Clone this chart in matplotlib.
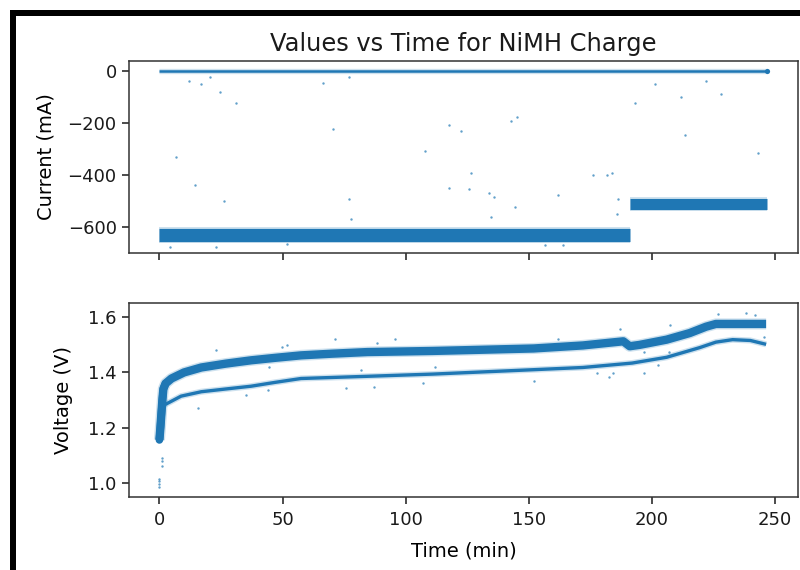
import matplotlib
matplotlib.use("Agg")
import matplotlib.pyplot as plt
from matplotlib.patches import Rectangle

# ---------------- data ----------------
# Current (mA): dense bands, given as band end points
zero_t = [0.0, 246.6]
zero_i = [0.0, 0.0]
cc1_t = [0.0, 191.0]
cc1_i = [-629.0, -629.0]
cc2_t = [191.0, 246.6]
cc2_i = [-512.0, -512.0]
# isolated current samples
out_i_t = [12.2, 17.0, 20.6, 24.7, 31.2, 6.8, 14.3, 26.2, 4.5, 23.0, 52.0, 66.6,
           77.0, 70.7, 77.0, 77.7, 108.0, 117.8, 117.8, 122.6, 125.9, 126.6,
           133.7, 135.7, 134.7, 142.8, 145.2, 144.5, 162.0, 156.7, 163.8, 176.0,
           181.6, 184.0, 186.4, 185.7, 193.1, 201.2, 211.7, 213.4, 222.1, 227.9,
           243.3]
out_i_v = [-38, -51, -22, -83, -122, -330, -438, -500, -676, -676, -665, -45,
           -22, -224, -492, -569, -308, -208, -451, -230, -454, -391,
           -468, -483, -560, -191, -176, -522, -477, -669, -669, -400,
           -400, -391, -494, -551, -122, -51, -101, -246, -38, -90,
           -314]

# Voltage (V): upper (dense) band
up_t = [0.0, 0.4, 0.8, 1.2, 1.6, 2.5, 4.9, 10.0, 17.0, 27.0, 37.2, 47.0, 57.5,
        70.0, 84.5, 98.0, 111.0, 125.0, 152.0, 172.0, 188.4, 191.0, 195.0,
        206.0, 215.4, 222.0, 226.0, 246.4]
up_v = [1.155, 1.20, 1.25, 1.30, 1.34, 1.36, 1.378, 1.40, 1.418, 1.432, 1.444,
        1.453, 1.462, 1.468, 1.474, 1.476, 1.478, 1.481, 1.487, 1.498, 1.513,
        1.495, 1.500, 1.519, 1.543, 1.566, 1.576, 1.576]
# Voltage (V): lower (thin) band
lo_t = [1.5, 3.5, 8.8, 17.0, 27.0, 37.2, 47.0, 57.5, 84.5, 111.0, 152.0, 172.0,
        192.0, 206.0, 219.4, 226.0, 232.8, 240.0, 246.4]
lo_v = [1.280, 1.289, 1.314, 1.330, 1.340, 1.350, 1.364, 1.378, 1.386, 1.394,
        1.410, 1.418, 1.434, 1.455, 1.490, 1.510, 1.519, 1.516, 1.502]
# isolated voltage samples
out_v_t = [0.0, 0.0, 0.0, 0.0, 1.2, 1.2, 1.2, 15.7, 23.0, 49.8, 52.0, 71.4, 88.5,
           95.7, 35.2, 44.0, 75.7, 87.1, 107.0, 44.5, 81.8, 112.0, 152.0, 162.0,
           187.0, 207.5, 226.8, 238.3, 241.7, 177.6, 182.7, 184.3, 197.0, 196.9,
           207.0, 202.5, 245.5]
out_v_v = [0.985, 0.995, 1.005, 1.015, 1.06, 1.08, 1.09, 1.27, 1.48, 1.492,
           1.50, 1.52, 1.506, 1.52, 1.318, 1.336, 1.342, 1.348, 1.363, 1.42,
           1.41, 1.42, 1.37, 1.52, 1.556, 1.573, 1.613, 1.615, 1.609, 1.398,
           1.384, 1.398, 1.398, 1.476, 1.476, 1.426, 1.528]

# ---------------- figure ----------------
C0 = "#1f77b4"
plt.rcParams.update({
    "font.family": ["DejaVu Sans"],
    "font.size": 13,
    "axes.linewidth": 1.1,
    "xtick.major.width": 1.1,
    "ytick.major.width": 1.1,
    "xtick.major.size": 4.9,
    "ytick.major.size": 4.9,
    "xtick.major.pad": 5.0,
    "ytick.major.pad": 4.0,
    "xtick.labelsize": 13,
    "ytick.labelsize": 13,
    "axes.labelsize": 14,
    "text.color": "#1a1a1a",
    "xtick.color": "#1a1a1a",
    "ytick.color": "#1a1a1a",
    "axes.edgecolor": "#333333",
})

fig = plt.figure(figsize=(8.0, 5.7), dpi=100)
fig.patch.set_facecolor("white")

W, H = 800.0, 570.0
ax1 = fig.add_axes([129 / W, 1 - 253 / H, 669 / W, 192 / H])
ax2 = fig.add_axes([129 / W, 1 - 497 / H, 669 / W, 194 / H], sharex=ax1)


def band(ax, t, v, lw):
    ax.plot(t, v, color=C0, alpha=0.22, lw=lw + 2.0, solid_capstyle="butt")
    ax.plot(t, v, color=C0, lw=lw, solid_capstyle="butt")


# current panel
band(ax1, zero_t, zero_i, 1.8)
band(ax1, cc1_t, cc1_i, 9.5)
band(ax1, cc2_t, cc2_i, 8.0)
ax1.scatter(out_i_t, out_i_v, s=3, color=C0, alpha=0.7, linewidths=0)
ax1.scatter([zero_t[-1]], [zero_i[-1]], s=14, color=C0, linewidths=0)
ax1.set_ylabel("Current (mA)", labelpad=9)
ax1.set_title("Values vs Time for NiMH Charge", fontsize=17.4, pad=7)
ax1.set_yticks([0, -200, -400, -600])
ax1.set_ylim(-700, 38)
ax1.tick_params(labelbottom=False)

# voltage panel
ax2.plot(up_t[:6], up_v[:6], color=C0, lw=5.5, solid_capstyle="round")
band(ax2, up_t, up_v, 6.0)
band(ax2, lo_t, lo_v, 2.4)
ax2.scatter(out_v_t, out_v_v, s=3, color=C0, alpha=0.7, linewidths=0)
ax2.set_ylabel("Voltage (V)", labelpad=11)
ax2.set_xlabel("Time (min)", labelpad=9)
ax2.set_yticks([1.0, 1.2, 1.4, 1.6])
ax2.set_ylim(0.948, 1.652)
ax2.set_xlim(-12.35, 259.35)
ax2.set_xticks([0, 50, 100, 150, 200, 250])

# black screenshot frame (left and top)
fig.add_artist(Rectangle((10 / W, 0), 6 / W, 1 - 10 / H, transform=fig.transFigure,
                         facecolor="black", edgecolor="none", zorder=10))
fig.add_artist(Rectangle((10 / W, 1 - 16 / H), 1 - 10 / W, 6 / H, transform=fig.transFigure,
                         facecolor="black", edgecolor="none", zorder=10))

fig.savefig("out.png", dpi=100, facecolor="white")
